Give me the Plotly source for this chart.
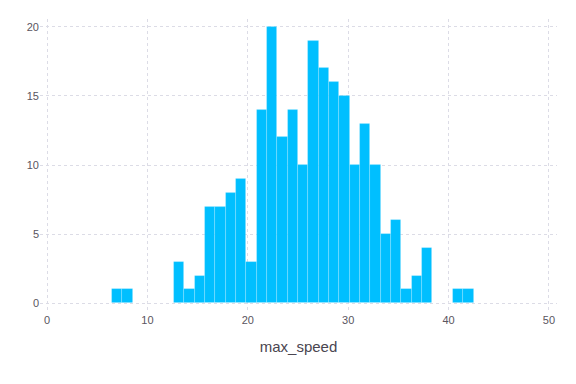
import plotly.graph_objects as go

# Histogram of max_speed: 35 equal-width bins
bin_start = 6.47
bin_end = 42.5
counts = [1, 1, 0, 0, 0, 0,
          3, 1, 2, 7, 7, 8, 9, 3, 14, 20, 12, 14, 10, 19, 17, 16, 15, 10, 13, 10, 5, 6, 1, 2, 4,
          0, 0, 1, 1]
x_ticks = [0, 10, 20, 30, 40, 50]
y_ticks = [0, 5, 10, 15, 20]
x_title = "max_speed"

n = len(counts)
w = (bin_end - bin_start) / n
centers = [bin_start + w * (i + 0.5) for i in range(n)]

fig = go.Figure(go.Bar(
    x=centers, y=counts, width=[w] * n,
    marker=dict(color="#00BFFF", line=dict(color="rgba(255,255,255,0.22)", width=0.8)),
    showlegend=False,
))

grid = "#dcdce6"
txt = "#5a5560"
fig.update_layout(
    template="none",
    width=576, height=384,
    margin=dict(l=40, r=19, t=19, b=72),
    paper_bgcolor="white", plot_bgcolor="white",
    font=dict(family="Liberation Sans, Helvetica, Arial, sans-serif", color=txt, size=11),
    bargap=0,
    xaxis=dict(range=[-0.7, 50.8], tickvals=x_ticks, showgrid=True, gridcolor=grid,
               griddash="dot", gridwidth=1, zeroline=False, showline=False, ticks="",
               title=dict(text=x_title, font=dict(size=15, color="#4a4550"), standoff=16),
               tickfont=dict(size=11, color=txt)),
    yaxis=dict(range=[-0.63, 20.56], tickvals=y_ticks, showgrid=True, gridcolor=grid,
               griddash="dot", gridwidth=1, zeroline=False, showline=False, ticks="",
               tickfont=dict(size=11, color=txt)),
)

fig.write_html("out.html")
